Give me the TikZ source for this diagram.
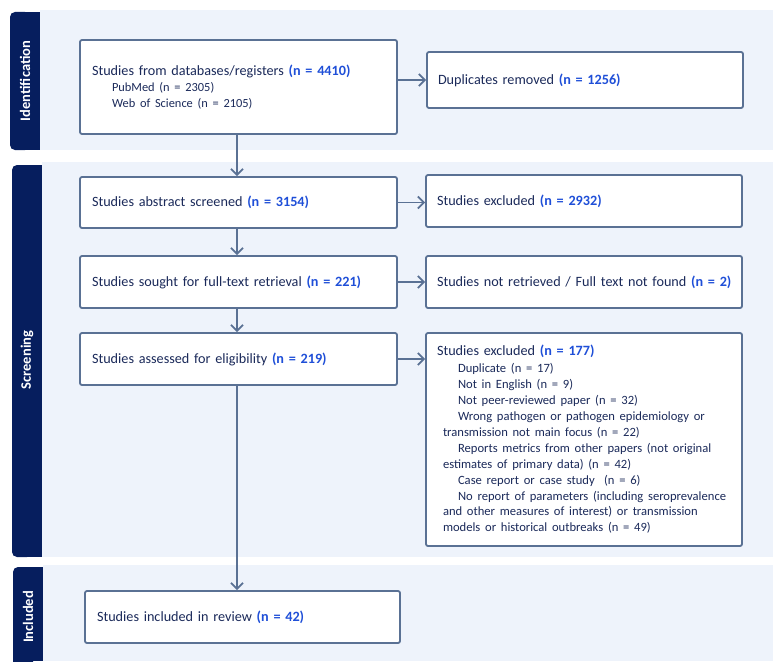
\documentclass[tikz,border=0pt]{standalone}
\usepackage{fontspec}
\setmainfont{Carlito}
\usetikzlibrary{arrows.meta}
\definecolor{navy}{HTML}{061E5E}
\definecolor{band}{HTML}{EEF3FB}
\definecolor{edge}{HTML}{5A7194}
\definecolor{txt}{HTML}{1B2A5A}
\definecolor{nblue}{HTML}{1F4FD8}
\newcommand{\nn}[1]{{\bfseries\color{nblue}#1}}
\begin{document}
\begin{tikzpicture}[x=1pt,y=-1pt,
  box/.style={draw=edge, line width=1.8pt, fill=white, rounded corners=2pt,
    inner xsep=12pt, align=left, text=txt, anchor=center,
    font=\fontsize{14.2}{16}\selectfont},
  lab/.style={rotate=90, text=white, font=\fontsize{14.5}{16}\selectfont\bfseries},
  conn/.style={draw=edge, line width=1.8pt, -{Straight Barb[length=6pt,width=12pt,line width=1.8pt]}}
]
\useasboundingbox (0,0) rectangle (773,661);
% bands
\fill[band] (40,10) rectangle (773,150);
\fill[band] (42,162) rectangle (773,557);
\fill[band] (43,565) rectangle (773,661);
% dark labels
\fill[navy, rounded corners=5pt] (10,12) rectangle (30,150);
\fill[navy] (25,12) rectangle (40,150);
\fill[navy, rounded corners=5pt] (12,165) rectangle (32,557);
\fill[navy] (27,165) rectangle (42,557);
\fill[navy, rounded corners=5pt] (13,567) rectangle (33,675);
\fill[navy] (28,567) rectangle (43,661);
\node[lab] (lid) at (25,81) {Identification};
\node[lab] (lsc) at (27,360) {Screening};
\node[lab] (lin) at (28,617) {Included};
% boxes
\node[box, minimum width=317pt, minimum height=94pt, text width=293pt] (db) at (238.5,87)
  {Studies from databases/registers \nn{(n = 4410)}\\
   {\fontsize{12.4}{16}\selectfont\hspace*{20pt}PubMed (n = 2305)}\\
   {\fontsize{12.4}{16}\selectfont\hspace*{20pt}Web of Science (n = 2105)}};
\node[box, minimum width=316pt, minimum height=56pt, text width=294pt, inner xsep=11pt] (dup) at (585,80)
  {Duplicates removed \nn{(n = 1256)}};
\node[box, minimum width=317pt, minimum height=51pt, text width=293pt] (abs) at (238.5,202.5)
  {Studies abstract screened \nn{(n = 3154)}};
\node[box, minimum width=316pt, minimum height=52pt, text width=294pt, inner xsep=11pt] (ex1) at (584,201)
  {Studies excluded \nn{(n = 2932)}};
\node[box, minimum width=317pt, minimum height=52pt, text width=293pt] (ft) at (238.5,282)
  {Studies sought for full-text retrieval \nn{(n = 221)}};
\node[box, minimum width=316pt, minimum height=52pt, text width=294pt, inner xsep=11pt] (nr) at (584,282)
  {\mbox{Studies not retrieved / Full text not found \nn{(n = 2)}}};
\node[box, minimum width=317pt, minimum height=52pt, text width=293pt] (el) at (238.5,359)
  {Studies assessed for eligibility \nn{(n = 219)}};
\node[box, minimum width=316pt, minimum height=213pt, text width=294pt, inner xsep=11pt] (ex2) at (584,439.5)
  {Studies excluded \nn{(n = 177)}\\[1pt]
   {\fontsize{12.6}{15.9}\selectfont
   \hspace*{21pt}Duplicate (n = 17)\\
   \hspace*{21pt}Not in English (n = 9)\\
   \hspace*{21pt}Not peer-reviewed paper (n = 32)\\
   \hspace*{21pt}Wrong pathogen or pathogen epidemiology or\\
   \hspace*{6pt}transmission not main focus (n = 22)\\
   \hspace*{21pt}Reports metrics from other papers (not original\\
   \hspace*{6pt}estimates of primary data) (n = 42)\\
   \hspace*{21pt}Case report or case study~~(n = 6)\\
   \hspace*{21pt}No report of parameters (including seroprevalence\\
   \hspace*{6pt}and other measures of interest) or transmission\\
   \hspace*{6pt}models or historical outbreaks (n = 49)}};
\node[box, minimum width=315pt, minimum height=52pt, text width=291pt] (inc) at (242.5,617)
  {Studies included in review \nn{(n = 42)}};
% connectors
\draw[conn] (db.south -| 237,0) -- (abs.north -| 237,0);
\draw[conn] (abs.south -| 237,0) -- (ft.north -| 237,0);
\draw[conn] (ft.south -| 237,0) -- (el.north -| 237,0);
\draw[conn] (el.south -| 237,0) -- (inc.north -| 237,0);
\draw[conn] (dup.west -| db.east) -- (dup.west);
\draw[conn] (abs.east) -- (ex1.west |- abs.east);
\draw[conn] (ft.east) -- (nr.west |- ft.east);
\draw[conn] (el.east) -- (ex2.west |- el.east);
\end{tikzpicture}
\end{document}
